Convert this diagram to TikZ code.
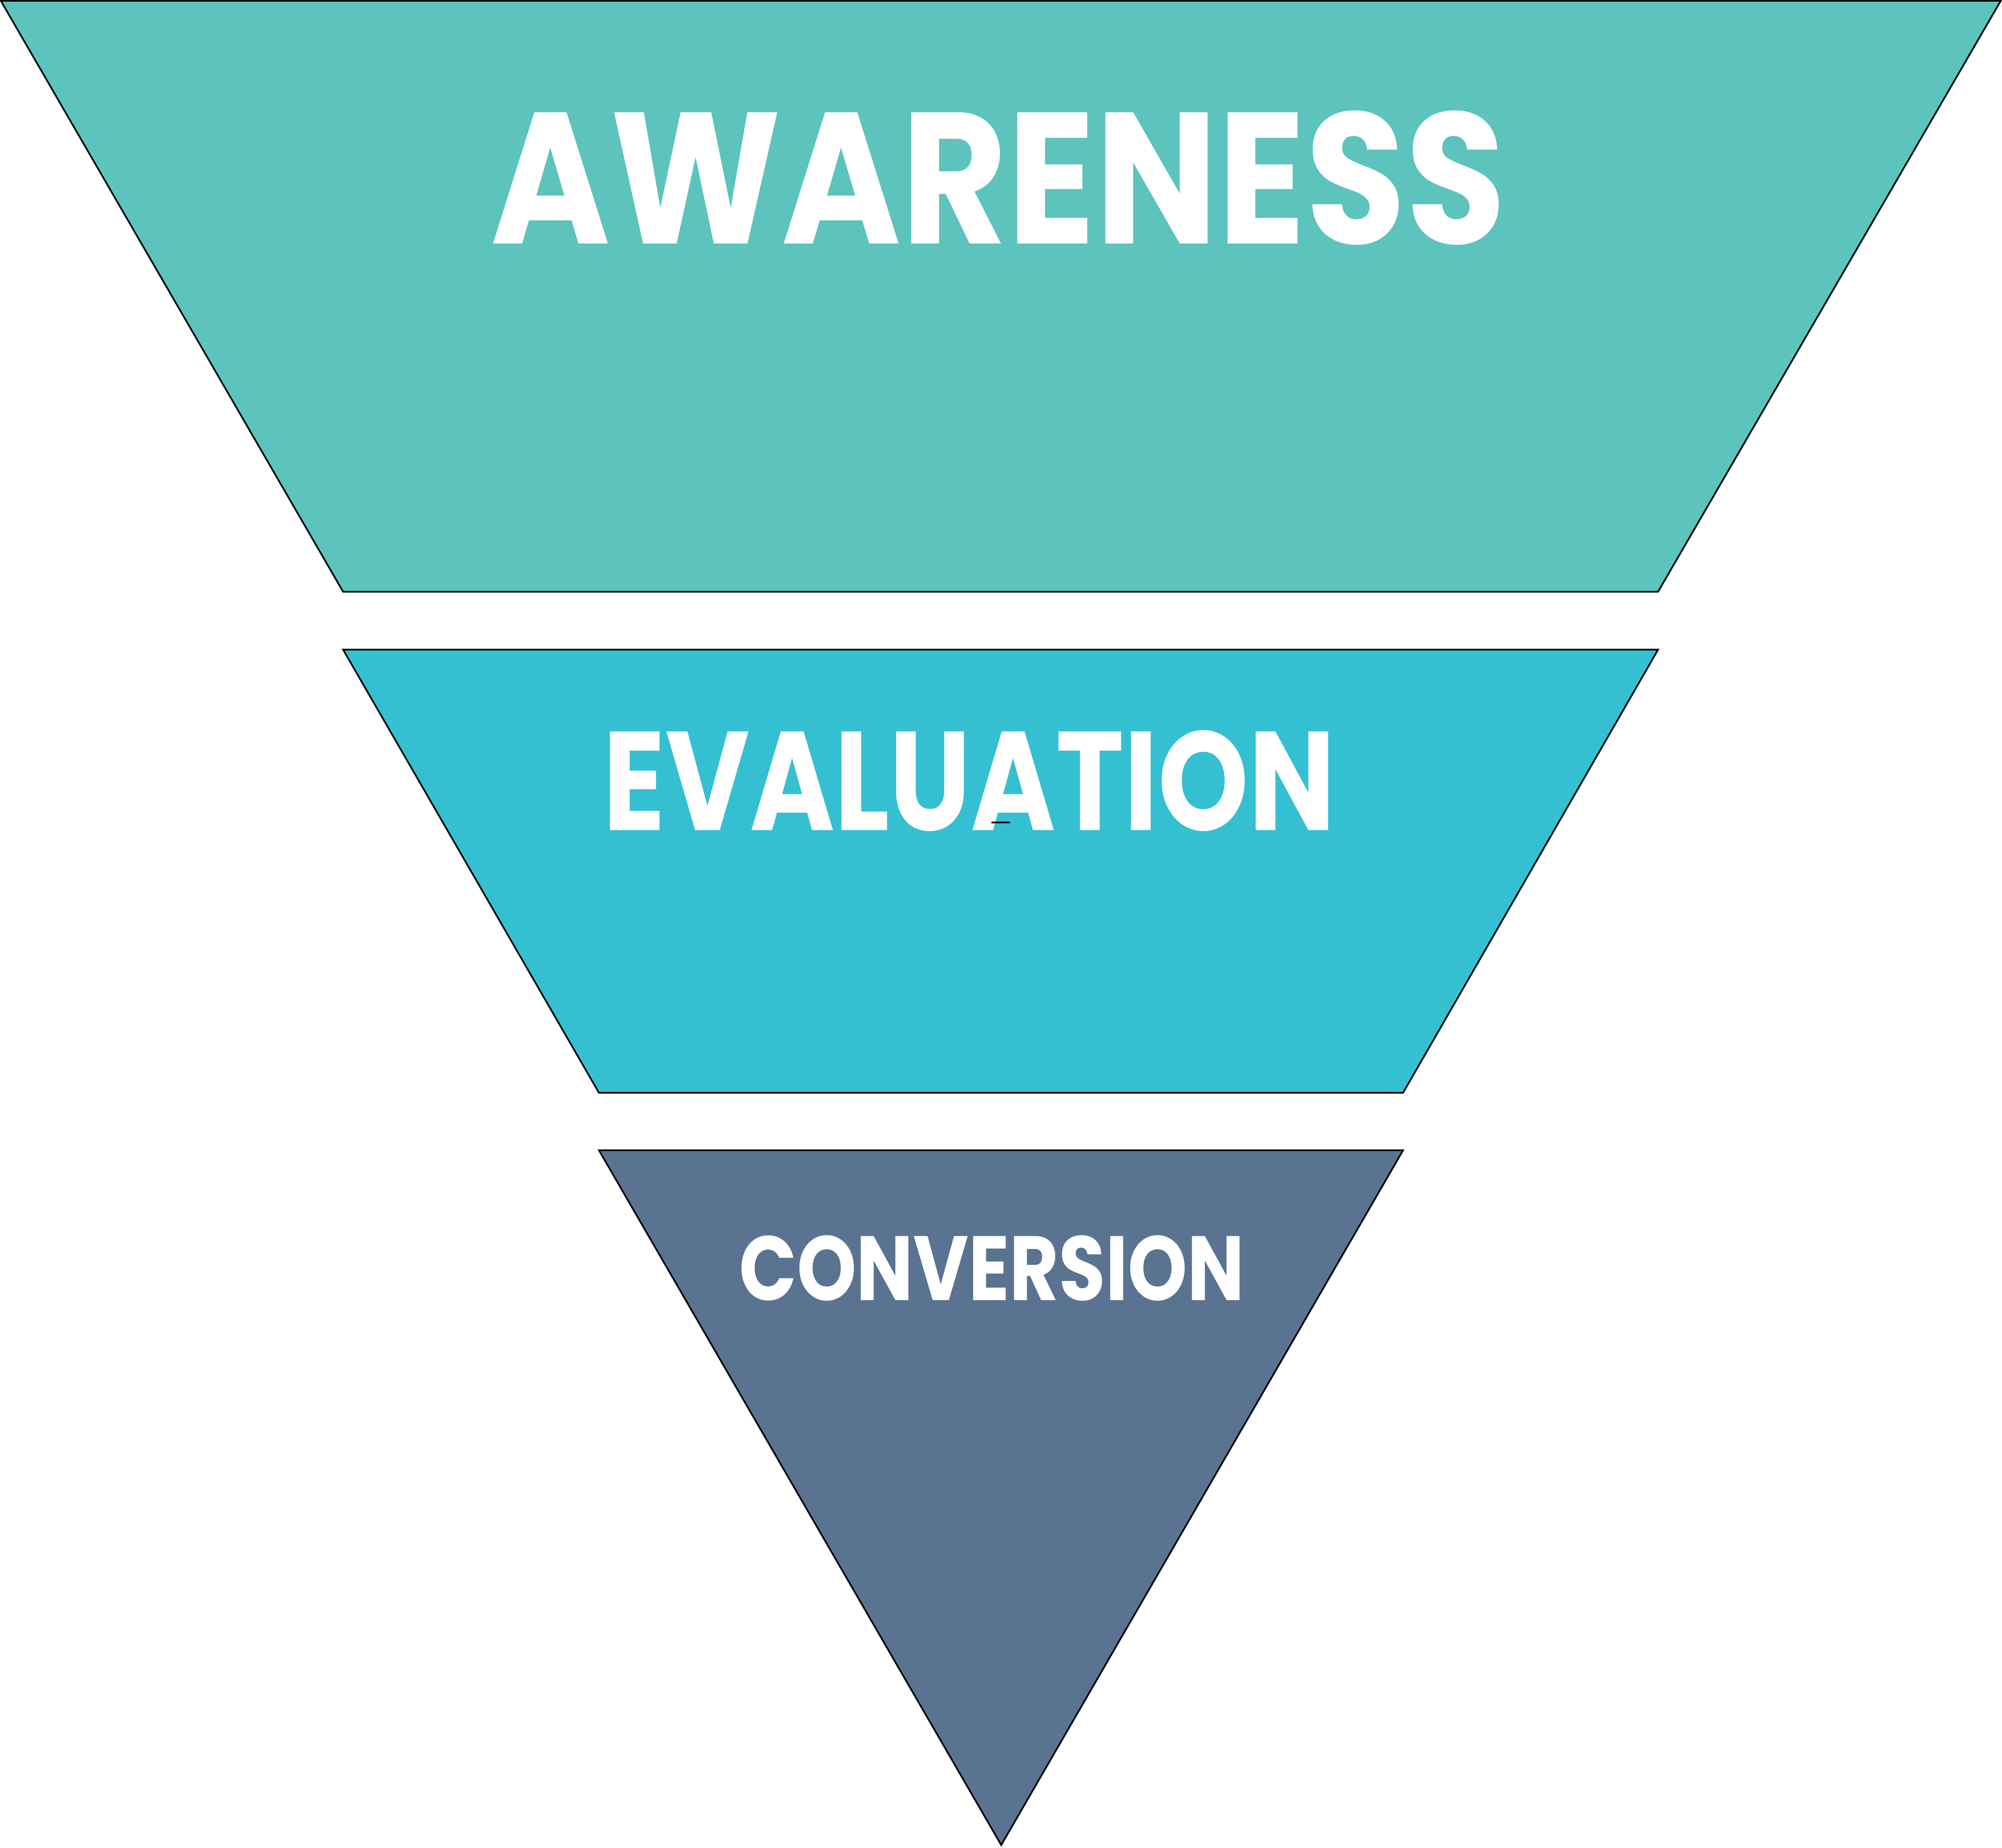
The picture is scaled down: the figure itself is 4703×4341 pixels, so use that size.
\documentclass[tikz,border=0pt]{standalone}
\usepackage{fontspec}
\setmainfont{Poppins}
\usepackage{tikz}
\usetikzlibrary{positioning}
\definecolor{awarecol}{HTML}{5CC4BC}
\definecolor{evalcol}{HTML}{35C0D1}
\definecolor{convcol}{HTML}{5A7391}
\tikzstyle{stage} = [draw=black, line width=1.1pt, line join=miter]
\tikzstyle{label} = [draw=none, fill=none, text=white, anchor=base, inner sep=0pt]

\begin{document}
\begin{tikzpicture}[x=0.1mm, y=-0.1mm]
\useasboundingbox (0,0) rectangle (4703,4341);

\path[stage, fill=awarecol] (2,2) -- (4700,2) -- (3895,1390) -- (806,1390) -- cycle;
\path[stage, fill=evalcol] (806,1526) -- (3895,1526) -- (3296,2567) -- (1407,2567) -- cycle;
\path[stage, fill=convcol] (1407,2702) -- (3296,2702) -- (2352,4334) -- cycle;

\node[label, font=\bfseries\fontsize{125pt}{125pt}\selectfont] (awareness) at (2345,573) {\scalebox{0.87}[1]{AWARENESS}};
\node[label, font=\bfseries\fontsize{94pt}{94pt}\selectfont] (evaluation) at (2277,1950) {\scalebox{0.82}[1]{EVALUATION}};
\node[label, font=\bfseries\fontsize{61pt}{61pt}\selectfont] (conversion) at (2330,3054) {\scalebox{0.83}[1]{CONVERSION}};

% stray dash under the A
\coordinate (dashL) at (2329,1932);
\coordinate (dashR) at (2373,1932);
\draw[line width=1.1pt] (dashL) -- (dashR);

\end{tikzpicture}
\end{document}
